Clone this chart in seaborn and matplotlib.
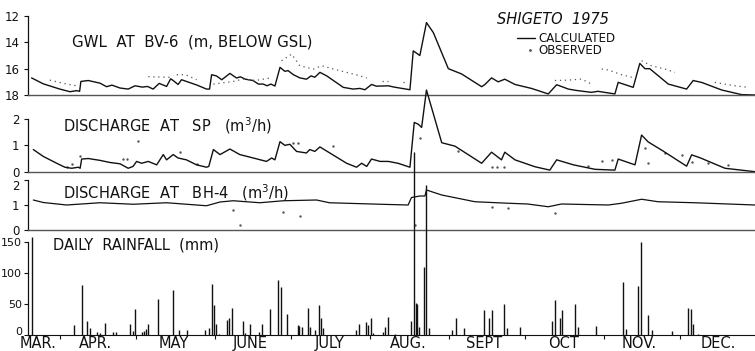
import numpy as np
import pandas as pd
import seaborn as sns
import matplotlib
matplotlib.use("Agg")
import matplotlib.pyplot as plt
from matplotlib.lines import Line2D

# ---------------- data (day index: 0 = 1 March 1975) ----------------
gwl_day = [19.9, 24.5, 31, 35, 37.6, 38.8, 39.3, 42.2, 46.8, 49.4, 51.5, 54.7, 57.9, 60.6, 63.5, 65.5,
           67.7, 70.1, 73, 74.6, 75.6, 77.5, 78.9, 80.5, 85, 88.7, 89.9, 90.7, 92.6, 94.7, 97.9, 100.5,
           102, 104, 107, 109.1, 111, 112.5, 114, 115.6, 117.6, 119.5, 120.8, 122.8, 125.4, 128, 129.8,
           131.3, 133.3, 136, 138.6, 142.5, 146.4, 149, 151, 153.6, 155.5, 160.2, 162.5, 168.7, 170,
           172.6, 175.2, 177.9, 183.8, 189, 196.9, 198.2, 200.8, 203.4, 206, 210, 216.5, 223.1, 226.4,
           231, 234, 240.1, 242.6, 249.3, 250.6, 256.5, 259.1, 261.1, 263, 270.3, 277.5, 280.1, 283.5,
           291.3, 299.1, 304.4]
gwl_calc = [16.7, 17.15, 17.55, 17.75, 17.67, 17.72, 16.97, 16.9, 17.1, 17.37, 17.25, 17.47, 17.55, 17.3,
            17.4, 17.35, 17.55, 17.12, 17.35, 16.77, 16.9, 17.2, 16.84, 16.95, 17.25, 17.55, 17.55, 16.46,
            16.55, 16.84, 16.36, 16.71, 16.62, 16.8, 16.9, 17.17, 17.17, 17.3, 17.17, 17.32, 15.9, 16.2,
            16.15, 16.45, 16.7, 16.8, 16.55, 16.65, 16.28, 16.55, 16.9, 17.42, 17.55, 17.5, 17.6, 17.2,
            17.33, 17.3, 17.4, 17.6, 14.65, 15.0, 12.5, 13.26, 16.0, 16.4, 17.37, 17.2, 16.7, 17.0, 16.8,
            17.2, 17.5, 17.92, 17.22, 17.55, 17.65, 17.8, 17.72, 17.92, 17.04, 17.42, 15.6, 16.0, 16.0,
            17.17, 17.55, 16.9, 17.05, 17.62, 17.97, 18.0]

obs_gwl_day = [27.1, 33.7, 38.3,
               65.8, 74.3,
               77.0, 80.5, 84.8,
               91.4, 99.2, 103.1, 108.0, 113.6,
               118.2, 122.2, 125.4, 130.7, 134.0, 138.6, 143.8, 149.0, 151.7,
               157.6, 160.0,
               166.1, 168.0,
               225.7, 231.0, 236.2, 240.1,
               244.1, 246.7, 251.9, 257.2,
               259.8, 263.7, 269.0, 272.9,
               288.6, 296.5, 301.7]
obs_gwl_val = [16.87, 17.17, 17.32,
               16.61, 16.66,
               16.46, 16.46, 16.84,
               17.17, 16.97, 16.79, 16.9, 16.71,
               15.4, 14.9, 15.78, 16.03, 15.78, 16.03, 16.28, 16.54, 16.71,
               16.92, 16.92,
               17.04, 17.04,
               16.9, 16.87, 16.79, 17.17,
               16.03, 16.1, 16.46, 16.71,
               15.4, 15.78, 16.03, 16.28,
               17.04, 17.3, 17.42]
obs_gwl_seg = [1, 1, 1, 2, 2, 3, 3, 3, 4, 4, 4, 4, 4, 5, 5, 5, 5, 5, 5, 5, 5, 5,
               6, 6, 7, 7, 8, 8, 8, 8, 9, 9, 9, 9, 10, 10, 10, 10, 11, 11, 11]

sp_day = [20.6, 24.5, 29.8, 33, 35.7, 38.3, 39.0, 39.6, 42.2, 46.8, 50.7, 54.7, 57.9, 59.8, 61.2, 63.2,
          65.8, 69.1, 71.7, 73, 75.6, 77.5, 80.8, 84.8, 88.7, 89.6, 91.4, 94, 97.9, 101.8, 107.1, 112.3,
          114.3, 115.6, 117.6, 119.5, 121.5, 124.1, 128, 129.3, 131.3, 133.3, 137.2, 143.8, 147.7, 149.7,
          151.7, 153.6, 157, 160.2, 164, 168.7, 170.4, 172, 173.3, 175.2, 181.2, 186.4, 196.9, 200.8,
          204.7, 206, 210, 217.8, 223.7, 226.4, 233, 241.5, 249.3, 250.6, 257.2, 259.8, 262.4, 268,
          277.5, 279.5, 283, 292.6, 304.4]
sp_calc = [0.84, 0.58, 0.32, 0.17, 0.13, 0.17, 0.13, 0.48, 0.5, 0.43, 0.35, 0.3, 0.13, 0.2, 0.39, 0.32,
           0.39, 0.26, 0.65, 0.45, 0.65, 0.52, 0.45, 0.26, 0.17, 0.2, 0.84, 0.65, 0.86, 0.65, 0.52, 0.39,
           0.52, 0.45, 1.14, 1.0, 1.04, 0.77, 0.71, 0.84, 0.77, 0.94, 0.71, 0.32, 0.17, 0.32, 0.2, 0.48,
           0.39, 0.39, 0.32, 0.17, 1.87, 1.8, 1.68, 3.1, 1.1, 0.97, 0.32, 0.74, 0.45, 0.74, 0.45, 0.19,
           0.06, 0.45, 0.26, 0.09, 0.06, 0.48, 0.26, 1.39, 1.13, 0.8, 0.21, 0.64, 0.52, 0.13, 0.0]

obs_sp_day = [33.7, 36.0, 38.9, 56.0, 57.5, 61.9, 78.3, 84.8, 122.8, 124.5, 138.6, 172.6, 187.7,
              200.8, 203.0, 205.5, 238.8, 244.1, 248.0, 261.1, 262.4, 269.0, 275.5, 279.5, 286.0, 293.9]
obs_sp_val = [0.19, 0.3, 0.58, 0.48, 0.5, 1.16, 0.74, 0.3, 1.1, 1.1, 0.97, 1.29, 0.77,
              0.17, 0.17, 0.17, 0.22, 0.39, 0.45, 0.9, 0.32, 0.71, 0.65, 0.35, 0.32, 0.26]

bh_day = [20.6, 24.5, 33.7, 46.8, 59.9, 73, 88.7, 94, 99.2, 109.7, 118.9, 132, 137, 157, 168, 169.3,
          172.6, 174.6, 175.2, 181.2, 194.3, 207.4, 215, 223.1, 228.3, 246.7, 251.9, 259.8, 266.3,
          280.8, 304.4]
bh_calc = [1.2, 1.1, 1.0, 1.09, 1.03, 1.09, 0.97, 1.12, 1.17, 1.09, 1.17, 1.2, 1.09, 1.03, 1.0, 1.3,
           1.36, 1.36, 1.6, 1.4, 1.13, 1.07, 1.04, 0.93, 1.04, 1.0, 1.07, 1.23, 1.13, 1.09, 1.0]

obs_bh_day = [99.2, 101.8, 118.9, 125.4, 170.6, 200.8, 207.4, 225.7]
obs_bh_val = [0.8, 0.2, 0.73, 0.56, 0.2, 0.93, 0.87, 0.69]

rain_day = [20.2, 36.6, 39.6, 41.6, 42.8, 45.5, 47.0, 48.8, 52, 53, 58.6, 59.6, 60.6, 63.4, 64.2, 65.0,
            65.8, 69.7, 75.6, 78, 81, 88.1, 89.6, 91, 91.8, 92.5, 93.5, 96.6, 97.6, 98.8, 102.9, 104,
            105.8, 109.5, 110.6, 113.6, 116.7, 117.9, 120.4, 124.5, 125.2, 126.2, 128.7, 129.4, 131.5,
            133, 133.7, 134.5, 147.6, 148.6, 151.3, 152.1, 153.4, 154.2, 158.2, 158.9, 159.9, 163.0,
            169.1, 170.4, 171.0, 171.5, 172.4, 174.3, 175.2, 176.3, 185.1, 187, 190, 198, 199.9, 201.1,
            205.8, 207, 211.9, 224.7, 225.7, 227.6, 228.6, 233.6, 234.6, 241.7, 252.6, 253.5, 258.5,
            259.4, 262.4, 263.7, 271.6, 278.1, 279.2, 280.1, 282]
rain_mm = [158, 16, 80, 23, 11, 5, 3, 19, 5, 5, 18, 6, 42, 5, 7, 9,
           18, 58, 72, 8, 8, 8, 11, 83, 48, 18, 2, 25, 28, 43, 22, 3,
           18, 5, 18, 42, 88, 78, 34, 16, 14, 13, 43, 13, 8,
           48, 27, 11, 8, 17, 21, 16, 28, 3, 5, 13, 29, 2,
           23, 295, 51, 50, 13, 110, 242, 11, 8, 28, 11, 41, 27, 41,
           50, 12, 13, 23, 57, 27, 41, 50, 13, 14, 86, 10, 79,
           150, 32, 8, 7, 43, 42, 17, 2]

month_bounds = [31, 61, 92, 122, 153, 184, 214, 245, 275]
month_mid = [22.5, 45, 76, 106, 137, 168, 198, 229, 259, 290]
month_names = ["MAR.", "APR.", "MAY", "JUNE", "JULY", "AUG.", "SEPT", "OCT", "NOV.", "DEC."]

# ---------------- figure ----------------
sns.set_style("ticks")
plt.rcParams["font.family"] = ["DejaVu Sans"]
W, H = 755, 351
fig = plt.figure(figsize=(W / 100, H / 100), dpi=100)

XL = (18.5, 304.4)
left = 28 / W
width = (W - 28) / W


def make_ax(y_top, y_bot):
    return fig.add_axes([left, (H - y_bot) / H, width, (y_bot - y_top) / H])


ax1 = make_ax(16, 95)
ax2 = make_ax(119, 171.7)
ax3 = make_ax(180, 230)
ax4 = make_ax(242, 335)

INK = "#111111"
OBS = "#555555"

for ax in (ax1, ax2, ax3, ax4):
    ax.set_facecolor("none")
    ax.set_xlim(*XL)
    for s in ("top", "right"):
        ax.spines[s].set_visible(False)
    ax.spines["left"].set_color(INK)
    ax.spines["left"].set_linewidth(0.9)
    ax.tick_params(axis="y", direction="out", length=3, width=0.8, labelsize=8.5, pad=3, colors=INK)
    ax.set_xlabel("")
    ax.set_ylabel("")

for ax in (ax1, ax2, ax3):
    ax.set_xticks([])
    ax.spines["bottom"].set_color("#555555")
    ax.spines["bottom"].set_linewidth(1.0)

# Panel 1: GWL
sns.lineplot(x=gwl_day, y=gwl_calc, ax=ax1, color=INK, linewidth=1.0, estimator=None, sort=False)
sns.lineplot(x=obs_gwl_day, y=obs_gwl_val, units=obs_gwl_seg, ax=ax1, color=OBS, linewidth=0.9,
             estimator=None, sort=False)
for ln in ax1.lines[1:]:
    ln.set_dashes((1, 3))
ax1.set_ylim(18, 12)
ax1.set_yticks([12, 14, 16, 18])

# Panel 2: discharge at SP
sns.lineplot(x=sp_day, y=sp_calc, ax=ax2, color=INK, linewidth=1.0, estimator=None, sort=False)
sns.scatterplot(x=obs_sp_day, y=obs_sp_val, ax=ax2, color=OBS, s=3, linewidth=0)
ax2.set_ylim(0, 2)
ax2.set_yticks([0, 1, 2])

# Panel 3: discharge at BH-4
sns.lineplot(x=bh_day, y=bh_calc, ax=ax3, color=INK, linewidth=0.9, estimator=None, sort=False)
sns.scatterplot(x=obs_bh_day, y=obs_bh_val, ax=ax3, color=OBS, s=3, linewidth=0)
ax3.set_ylim(0, 2)
ax3.set_yticks([0, 1, 2])
# nudge the top "2" label down a little so it clears the "0" above it
ax3.get_yticklabels()[-1].set_va("top")

# Panel 4: daily rainfall
ax4.vlines(rain_day, 0, rain_mm, colors=INK, linewidth=1.0, clip_on=False)
ax4.set_ylim(0, 150)
ax4.set_yticks([0, 50, 100, 150])
ax4.tick_params(axis="y", labelsize=8, pad=1.5)
ax4.get_yticklabels()[0].set_va("baseline")
ax4.spines["bottom"].set_color(INK)
ax4.set_xticks(month_bounds)
ax4.set_xticklabels([])
ax4.set_xticks(month_mid, minor=True)
ax4.set_xticklabels(month_names, minor=True)
ax4.tick_params(axis="x", which="major", direction="out", length=3, width=0.8, colors=INK)
ax4.tick_params(axis="x", which="minor", length=0, labelsize=10.5, pad=0.5, colors=INK)

for ax in (ax1, ax2, ax3, ax4):
    for ln in ax.lines:
        ln.set_clip_on(False)
    for c in ax.collections:
        c.set_clip_on(False)
    ax.set_xlim(*XL)


def ftext(x, y, s, **kw):
    fig.text(x / W, 1 - y / H, s, color=INK, va="center", **kw)


ftext(72, 42, "GWL  AT  BV-6  (m, BELOW GSL)", fontsize=10.8, ha="left")
ftext(63, 126, "DISCHARGE  AT   SP   (m$^3$/h)", fontsize=10.5, ha="left")
ftext(63, 193, "DISCHARGE  AT   BH-4   (m$^3$/h)", fontsize=10.5, ha="left")
ftext(53, 245, "DAILY  RAINFALL  (mm)", fontsize=10.5, ha="left")
ftext(497, 19, "SHIGETO  1975", fontsize=10.5, ha="left", style="italic")
ftext(538, 38, "CALCULATED", fontsize=8.5, ha="left")
ftext(538, 50, "OBSERVED", fontsize=8.5, ha="left")
fig.add_artist(Line2D([517 / W, 535 / W], [1 - 38 / H, 1 - 38 / H], color=INK, linewidth=1.0))
fig.add_artist(Line2D([530 / W], [1 - 50 / H], marker=".", markersize=2, color=OBS, linestyle="none"))

fig.savefig("out.png", dpi=100)
